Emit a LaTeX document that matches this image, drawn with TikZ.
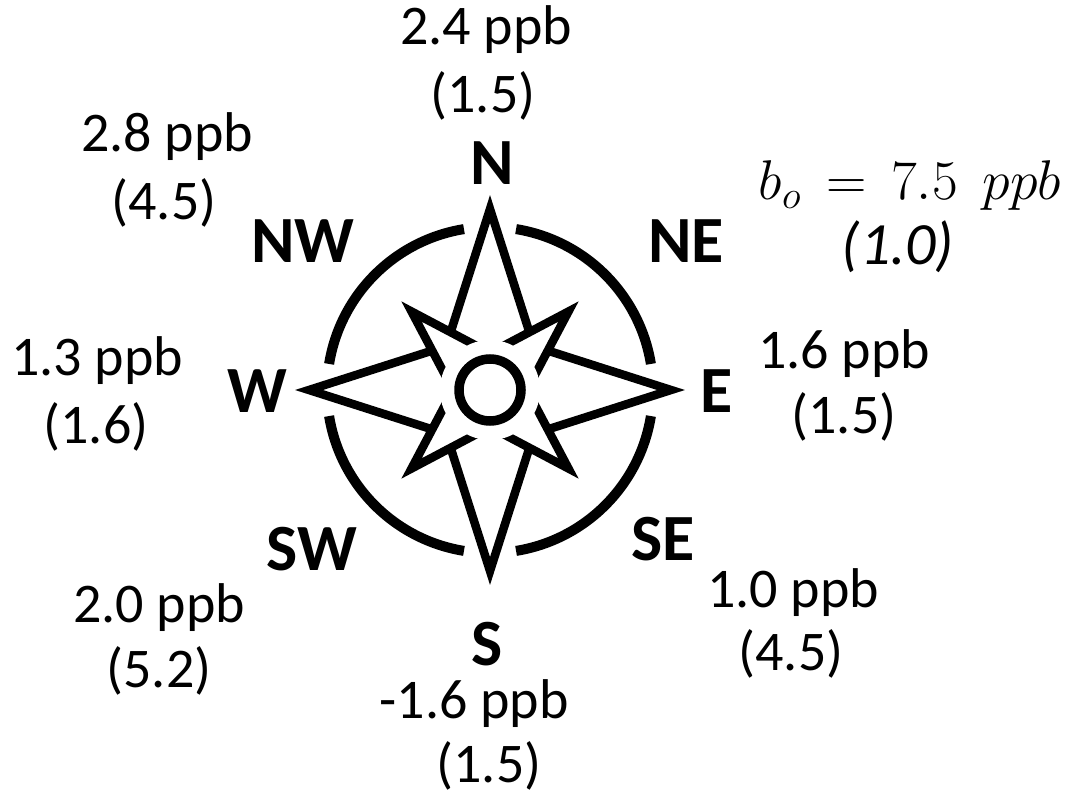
\RequirePackage{fix-cm}
\documentclass[tikz,border=0pt]{standalone}
\usepackage[no-math]{fontspec}
\setmainfont{Carlito}
\usetikzlibrary{positioning}

\tikzset{
  val/.style={font=\fontsize{56}{66}\selectfont, inner sep=0pt, anchor=base},
  dir/.style={font=\fontsize{66}{72}\selectfont\bfseries, inner sep=0pt, anchor=base},
  starline/.style={line width=8.5pt, line join=miter},
  ringline/.style={line width=10pt}
}

\begin{document}
\begin{tikzpicture}[x=1pt,y=1pt]
    \useasboundingbox[fill=white] (0,0) rectangle (1073,-794);
    \coordinate (c) at (490,-390);

    % compass rose
    \begin{scope}[shift={(c)}]
    \foreach \a in {45,135,225,315}
        \draw[ringline] (\a-35.8:163) arc[start angle=\a-35.8, end angle=\a+35.8, radius=163];
    \draw[starline] (0:181) -- (45:62) -- (90:181) -- (135:62) -- (180:181)
        -- (225:62) -- (270:181) -- (315:62) -- cycle;
    \draw[starline, fill=white] (45:111) -- (90:37) -- (135:111) -- (180:37)
        -- (225:111) -- (270:37) -- (315:111) -- (0:37) -- cycle;
    \fill[white] (0,0) circle[radius=50];
    \draw[line width=9.5pt] (0,0) circle[radius=31];
    \end{scope}

    % directions
    \node[dir] (n)  at (492,-185) {N};
    \node[dir] (ne) at (686,-263) {NE};
    \node[dir] (e)  at (717,-412) {E};
    \node[dir] (se) at (663,-560) {SE};
    \node[dir] (s)  at (487,-665) {S};
    \node[dir] (sw) at (312,-570) {SW};
    \node[dir] (w)  at (257,-412) {W};
    \node[dir] (nw) at (303,-263) {NW};

    % values and weights
    \node[val] (nval)  at (486,-45)  {2.4 ppb};
    \node[val] (nwt)   at (483,-113) {(1.5)};
    \node[val] (nwval) at (167,-152) {2.8 ppb};
    \node[val] (nwwt)  at (164,-220) {(4.5)};
    \node[val] (wval)  at (97,-375)  {1.3 ppb};
    \node[val] (wwt)   at (96,-443)  {(1.6)};
    \node[val] (eval)  at (844,-368) {1.6 ppb};
    \node[val] (ewt)   at (844,-433) {(1.5)};
    \node[val] (swval) at (159,-622) {2.0 ppb};
    \node[val] (swwt)  at (159,-687) {(5.2)};
    \node[val] (sval)  at (474,-718) {-1.6 ppb};
    \node[val] (swt)   at (489,-782) {(1.5)};
    \node[val] (seval) at (793,-607) {1.0 ppb};
    \node[val] (sewt)  at (791,-670) {(4.5)};

    % offset
    \node[val] (bval) at (910,-200) {$b_o \,=\, 7.5\;\,ppb$};
    \node[val, font=\fontsize{60}{66}\selectfont] (bwt) at (898,-265) {\itshape (1.0)};
\end{tikzpicture}
\end{document}
